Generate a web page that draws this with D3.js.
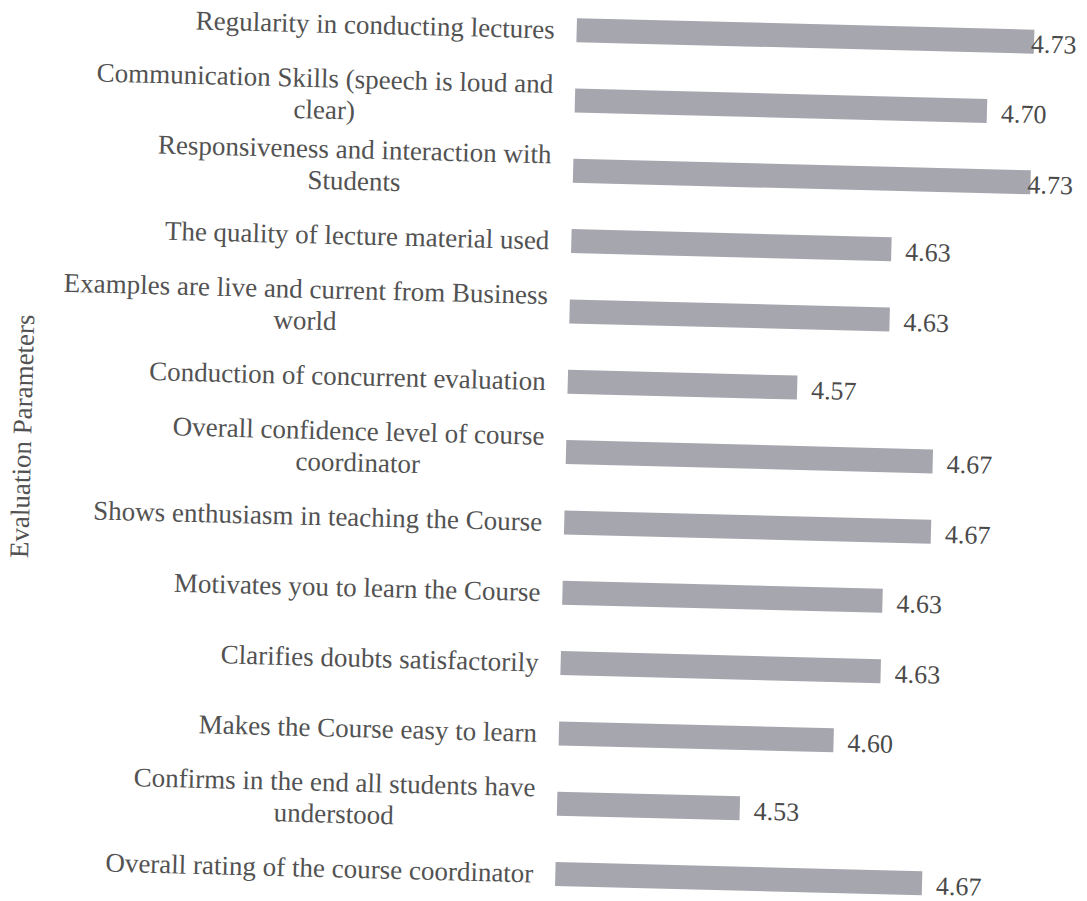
<!DOCTYPE html>
<html><head><meta charset="utf-8">
<script src="https://cdn.jsdelivr.net/npm/d3@7"></script>
<style>body{margin:0;background:#fff}svg{display:block}</style>
</head><body>
<script>
// ---- data ----
const categories = [
  "Regularity in conducting lectures",
  "Communication Skills (speech is loud and\nclear)",
  "Responsiveness and interaction with\nStudents",
  "The quality of lecture material used",
  "Examples are live and current from Business\nworld",
  "Conduction of concurrent evaluation",
  "Overall confidence level of course\ncoordinator",
  "Shows enthusiasm in teaching the Course",
  "Motivates you to learn the Course",
  "Clarifies doubts satisfactorily",
  "Makes the Course easy to learn",
  "Confirms in the end all students have\nunderstood",
  "Overall rating of the course coordinator"
];
// mean ratings (labels show 2 decimals)
const values = [4.733, 4.700, 4.733, 4.633, 4.633, 4.567, 4.667, 4.667, 4.633, 4.633, 4.600, 4.533, 4.667];
const xDomain = [4.4, 4.8];
const yTitle = "Evaluation Parameters";

// ---- layout ----
const W = 1087, H = 901;
const cx = 566, cy = 452.1, angle = 1.45;   // scanned page is slightly rotated
const font = "'Liberation Serif','Times New Roman',serif";
const textColor = "#525252";
const barColor = "#a6a6ae";

const svg = d3.select("body").append("svg").attr("width", W).attr("height", H);
svg.append("rect").attr("width", W).attr("height", H).attr("fill", "#ffffff");
const g = svg.append("g").attr("transform", `rotate(${angle},${cx},${cy})`);

const x = d3.scaleLinear().domain(xDomain).range([cx, cx + 0.4 * 1374]);
const y = d3.scalePoint().domain(categories).range([cy - 6 * 70.35, cy + 6 * 70.35]);
const barH = 24;
const rightBound = 1066;

// bars
g.selectAll("rect.bar").data(values).join("rect")
  .attr("class", "bar")
  .attr("x", x(xDomain[0]))
  .attr("y", (d, i) => y(categories[i]) - barH / 2)
  .attr("width", d => x(d) - x(xDomain[0]))
  .attr("height", barH)
  .attr("fill", barColor);

// value labels
const fmt = d3.format(".2f");
g.selectAll("text.val").data(values).join("text")
  .attr("class", "val")
  .attr("font-family", font).attr("font-size", 26).attr("fill", "#4a4a4a")
  .attr("y", (d, i) => y(categories[i]))
  .attr("dy", "0.42em")
  .text(d => fmt(d))
  .attr("x", function (d) {
    const w = this.getComputedTextLength();
    return Math.min(x(d) + 14, rightBound - w);
  });

// category labels (right-aligned block, lines centred)
const labelRight = x(xDomain[0]) - 22;
const lineH = 31.5;
categories.forEach(cat => {
  const lines = cat.split("\n");
  const t = g.append("text")
    .attr("font-family", font).attr("font-size", 27).attr("fill", textColor)
    .attr("text-anchor", "middle");
  const spans = lines.map((ln, j) => t.append("tspan")
    .attr("y", y(cat) + (j - (lines.length - 1) / 2) * lineH)
    .attr("dy", "0.33em")
    .text(ln));
  const maxW = d3.max(spans, s => s.node().getComputedTextLength());
  spans.forEach(s => s.attr("x", labelRight - maxW / 2));
});

// axis title
g.append("text")
  .attr("font-family", font).attr("font-size", 27).attr("fill", textColor)
  .attr("text-anchor", "middle")
  .attr("transform", "translate(22,450) rotate(-90)")
  .attr("dy", "0.33em")
  .text(yTitle);
</script>
</body></html>
